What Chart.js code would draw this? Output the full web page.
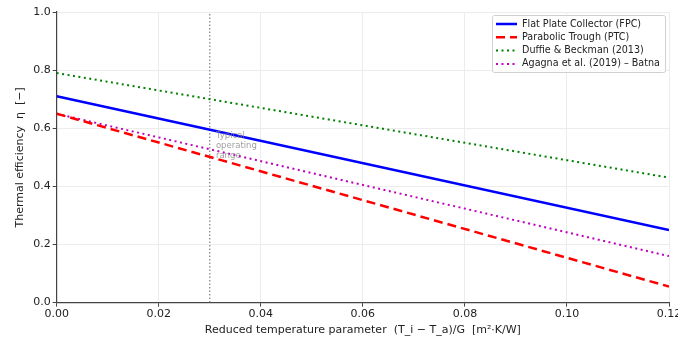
<!DOCTYPE html>
<html>
<head>
<meta charset="utf-8">
<script src="https://cdn.jsdelivr.net/npm/chart.js@4"></script>
<style>
	html, body { margin: 0; padding: 0; background: #fff; }
	#wrap { width: 678px; height: 339px; }
</style>
</head>
<body>
<div id="wrap"><canvas id="effChart"></canvas></div>
<script>
// reduced temperature parameter (x) and efficiency values
const xValues = [0, 0.12]
const fpcEff = [0.71, 0.25]
const ptcEff = [0.65, 0.055]
const duffieEff = [0.79, 0.43]
const agagnaEff = [0.65, 0.16]
const xTicks = [0, 0.02, 0.04, 0.06, 0.08, 0.10, 0.12]
const yTicks = [0, 0.2, 0.4, 0.6, 0.8, 1.0]
const operatingX = 0.03
const operatingLabel = ["Typical", "operating", "range"]

const font = "'DejaVu Sans', sans-serif"

function points(values) {
	return values.map((v, i) => ({ x: xValues[i], y: v }))
}

const legendBox = {
	id: "legendBox",
	afterDraw(chart) {
		const ctx = chart.ctx
		const area = chart.chartArea
		const items = chart.data.datasets.filter(d => !d.hideLegend)
		const w = 173, h = 57
		const x0 = area.right - w - 4, y0 = area.top + 3
		ctx.save()
		ctx.fillStyle = "rgba(255,255,255,0.8)"
		ctx.strokeStyle = "#d0d0d0"
		ctx.lineWidth = 1
		ctx.beginPath()
		ctx.roundRect(x0 + 0.5, y0 + 0.5, w, h, 2)
		ctx.fill()
		ctx.stroke()
		ctx.font = "9.6px " + font
		ctx.textBaseline = "middle"
		items.forEach((d, i) => {
			const y = y0 + 9 + i * 13.3
			ctx.strokeStyle = d.borderColor
			ctx.lineWidth = d.borderWidth
			ctx.setLineDash(d.borderDash || [])
			ctx.beginPath()
			ctx.moveTo(x0 + 4, y)
			ctx.lineTo(x0 + 25, y)
			ctx.stroke()
			ctx.setLineDash([])
			ctx.fillStyle = "#222"
			ctx.fillText(d.label, x0 + 30, y)
		})
		ctx.restore()
	}
}

const rangeNote = {
	id: "rangeNote",
	afterDatasetsDraw(chart) {
		const ctx = chart.ctx
		const xs = chart.scales.x, ys = chart.scales.y
		ctx.save()
		ctx.font = "8.5px " + font
		ctx.fillStyle = "rgba(128,128,128,0.75)"
		ctx.textBaseline = "middle"
		operatingLabel.forEach((t, i) => {
			ctx.fillText(t, xs.getPixelForValue(operatingX + 0.0012), ys.getPixelForValue(0.575 - i * 0.035))
		})
		ctx.restore()
	}
}

const effChart = new Chart(document.getElementById("effChart"), {
	type: "line",
	data: {
		datasets: [{
			label: "Flat Plate Collector (FPC)",
			data: points(fpcEff),
			borderColor: "#0000ff",
			borderWidth: 2.5
		}, {
			label: "Parabolic Trough (PTC)",
			data: points(ptcEff),
			borderColor: "#ff0000",
			borderWidth: 2.5,
			borderDash: [9, 5]
		}, {
			label: "Duffie & Beckman (2013)",
			data: points(duffieEff),
			borderColor: "#008000",
			borderWidth: 2,
			borderDash: [2, 3.5]
		}, {
			label: "Agagna et al. (2019) – Batna",
			data: points(agagnaEff),
			borderColor: "#bf00bf",
			borderWidth: 2,
			borderDash: [2, 3.5]
		}, {
			label: "range",
			hideLegend: true,
			data: [{ x: operatingX, y: 0 }, { x: operatingX, y: 1 }],
			borderColor: "#808080",
			borderWidth: 1.2,
			borderDash: [1.5, 2]
		}]
	},
	options: {
		responsive: true,
		maintainAspectRatio: false,
		animation: false,
		layout: { padding: { top: 12, right: 9, left: 14, bottom: 2 } },
		elements: { point: { radius: 0 }, line: { tension: 0 } },
		scales: {
			x: {
				type: "linear",
				min: 0,
				max: 0.12,
				afterBuildTicks: axis => { axis.ticks = xTicks.map(v => ({ value: v })) },
				afterFit: axis => { axis.paddingRight = 0 },
				ticks: {
					callback: v => v.toFixed(2),
					color: "#222",
					font: { family: font, size: 11 },
					padding: 1,
					maxRotation: 0
				},
				grid: { color: "#ececec", tickColor: "#444", tickLength: 4 },
				border: { color: "#444", width: 1.2 },
				title: {
					display: true,
					text: "Reduced temperature parameter  (T_i − T_a)/G  [m²·K/W]",
					color: "#222",
					font: { family: font, size: 11 },
					padding: { top: 2, bottom: 0 }
				}
			},
			y: {
				min: 0,
				max: 1,
				afterBuildTicks: axis => { axis.ticks = yTicks.map(v => ({ value: v })) },
				ticks: {
					callback: v => v.toFixed(1),
					color: "#222",
					font: { family: font, size: 11 },
					padding: 2
				},
				grid: { color: "#ececec", tickColor: "#444", tickLength: 4 },
				border: { color: "#444", width: 1.2 },
				title: {
					display: true,
					text: "Thermal efficiency  η  [−]",
					color: "#222",
					font: { family: font, size: 11 },
					padding: { top: 0, bottom: 4 }
				}
			}
		},
		plugins: {
			legend: { display: false },
			tooltip: { enabled: false }
		}
	},
	plugins: [legendBox, rangeNote]
})
</script>
</body>
</html>
